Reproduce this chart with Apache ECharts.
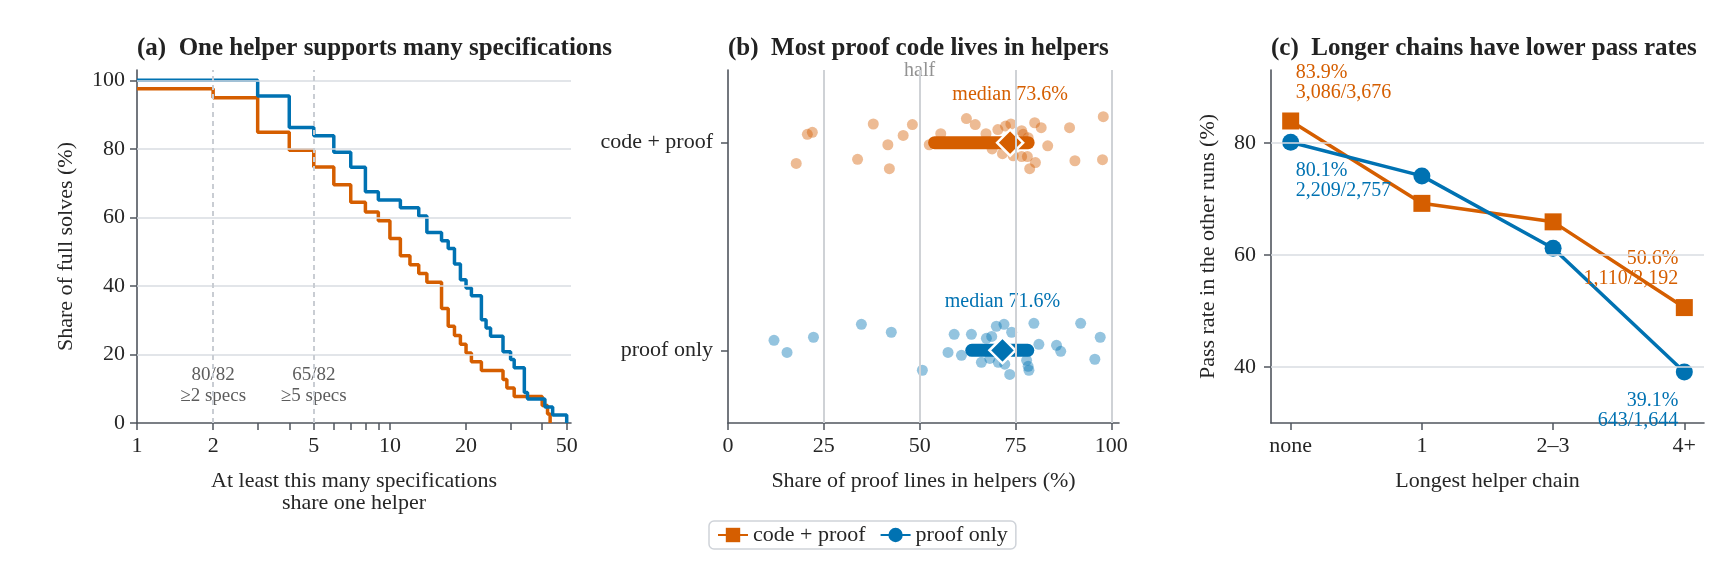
<!DOCTYPE html>
<html>
<head>
<meta charset="utf-8">
<title>Helpers and proofs</title>
<script src="https://cdn.jsdelivr.net/npm/echarts@6.0.0/dist/echarts.min.js"></script>
<style>
  html, body { margin: 0; padding: 0; background: #fff; }
  #chart { width: 1716px; height: 581px; }
</style>
</head>
<body>
<div id="chart"></div>
<script>
// ---- (a) share of full solves vs. number of specs one helper supports
const codeProofStepX = [1, 2, 3, 4, 5, 6, 7, 8, 9, 10, 11, 12, 13, 14, 16, 17, 18, 19, 20, 21, 23, 28, 29, 31, 40, 42, 43];
const codeProofStepY = [97.5, 94.9, 84.8, 79.6, 74.7, 69.5, 64.4, 61.6, 59.0, 53.8, 48.8, 46.2, 43.6, 41.1, 33.4, 28.2, 25.5, 23.0, 20.4, 17.9, 15.3, 12.7, 10.2, 7.7, 5.1, 2.6, 0];
const proofOnlyStepX = [1, 3, 4, 5, 6, 7, 8, 9, 11, 13, 14, 16, 17, 18, 19, 20, 21, 23, 24, 25, 28, 30, 31, 34, 35, 41, 44, 50];
const proofOnlyStepY = [100, 95.4, 86.2, 83.8, 79.0, 74.6, 67.5, 65.1, 62.8, 60.4, 55.6, 53.2, 50.9, 46.4, 41.8, 39.4, 37.1, 30.1, 27.7, 25.3, 20.8, 18.5, 16.1, 8.9, 7.0, 4.7, 2.3, 0];
const refLineX = [2, 5];
const refLineText = ['80/82\n≥2 specs', '65/82\n≥5 specs'];
const refTextY = 10.9;
const specTicks = [1, 2, 3, 4, 5, 6, 7, 8, 9, 10, 20, 30, 40, 50];
const specLabels = [1, 2, 5, 10, 20, 50];
const solveTicks = [0, 20, 40, 60, 80, 100];

// ---- (b) share of proof lines living in helpers (jitter = offset from the row)
const codeProofShare = [17.8, 20.7, 22.0, 33.8, 37.9, 41.7, 42.1, 45.7, 48.1, 52.5, 55.5, 62.2, 64.5, 67.3, 68.9, 70.4, 71.6, 72.4, 73.8, 74.4, 76.6, 77.0, 78.3, 76.6, 78.1, 78.7, 80.0, 80.2, 81.7, 83.4, 89.1, 90.5, 97.7, 97.9];
const codeProofJitter = [-0.10, 0.04, 0.05, -0.08, 0.09, -0.01, -0.125, 0.035, 0.087, -0.01, 0.043, 0.116, 0.087, 0.043, -0.03, 0.063, -0.053, 0.08, 0.09, -0.063, 0.058, 0.04, 0.024, -0.067, -0.067, -0.125, 0.096, -0.096, 0.072, -0.015, 0.072, -0.087, -0.082, 0.125];
const proofOnlyShare = [12.0, 15.4, 22.3, 34.8, 42.6, 50.7, 57.4, 59.0, 60.9, 63.5, 66.1, 67.4, 68.8, 70.0, 72.0, 74.0, 68.3, 70.5, 72.2, 73.5, 77.9, 78.3, 78.5, 79.8, 81.1, 85.7, 86.8, 92.0, 97.1, 95.7];
const proofOnlyJitter = [0.048, -0.01, 0.063, 0.125, 0.087, -0.096, -0.01, 0.077, -0.024, 0.077, -0.058, 0.058, 0.067, 0.116, 0.125, 0.087, -0.039, -0.058, -0.067, -0.116, -0.048, -0.077, -0.096, 0.13, 0.029, 0.024, -0.005, 0.13, 0.063, -0.043];
// index 0 = code + proof, 1 = proof only
const shareMedian = [73.6, 71.6];
const shareQ1 = [53.9, 63.6];
const shareQ3 = [78.3, 78.2];
const shareRow = [1, 0];
const shareTicks = [0, 25, 50, 75, 100];
const shareGrid = [25, 50, 75, 100];
const rowLabels = ['proof only', 'code + proof'];

// ---- (c) pass rate by longest helper chain
const chainCats = ['none', '1', '2–3', '4+'];
const codeProofPass = [83.9, 69.2, 65.9, 50.6];
const proofOnlyPass = [80.1, 74.1, 61.2, 39.1];
const codeProofCounts = ['3,086/3,676', '', '', '1,110/2,192'];
const proofOnlyCounts = ['2,209/2,757', '', '', '643/1,644'];
const passTicks = [40, 60, 80];

const ORANGE = '#D55E00';
const BLUE = '#0072B2';
const AXIS = '#50555e';
const GRID = '#d8dce2';
const TEXT = '#262626';
const FONT = "'Liberation Serif', 'Times New Roman', serif";

const log = (v) => Math.log10(v);

const chart = echarts.init(document.getElementById('chart'));

function axisLine() {
    return { show: true, onZero: false, lineStyle: { color: AXIS, width: 1.6 } };
}
function axisTick(values) {
    return { show: true, length: 7, customValues: values, lineStyle: { color: AXIS, width: 1.5 } };
}
function axisLabel(values, formatter, margin) {
    return {
        customValues: values, formatter, margin,
        fontFamily: FONT, fontSize: 22, color: TEXT
    };
}
const nameStyle = { fontFamily: FONT, fontSize: 22, color: TEXT, lineHeight: 22 };

function gridLines(xi, key, values, style) {
    return {
        type: 'line', xAxisIndex: xi, yAxisIndex: xi, data: [], silent: true, z: 1,
        markLine: {
            silent: true, symbol: ['none', 'none'], label: { show: false }, animation: false,
            lineStyle: style,
            data: values.map((v) => ({ [key]: v }))
        }
    };
}

function stepSeries(name, xs, ys, color) {
    return {
        name, type: 'line', xAxisIndex: 0, yAxisIndex: 0, step: 'end', showSymbol: false, z: 3,
        lineStyle: { color, width: 3.5 }, itemStyle: { color },
        data: xs.map((x, i) => [log(x), ys[i]])
    };
}

function jitterSeries(name, shares, jitter, row, color) {
    return {
        name, type: 'scatter', xAxisIndex: 1, yAxisIndex: 1, symbolSize: 11, z: 2,
        itemStyle: { color, opacity: 0.42 },
        data: shares.map((s, i) => [s, row + jitter[i]])
    };
}

function iqrSeries(name, g, color) {
    const row = shareRow[g];
    return [
        {
            name, type: 'line', xAxisIndex: 1, yAxisIndex: 1, showSymbol: false, z: 3,
            lineStyle: { color, width: 13, cap: 'round' },
            data: [[shareQ1[g], row], [shareQ3[g], row]]
        },
        {
            name, type: 'scatter', xAxisIndex: 1, yAxisIndex: 1, symbol: 'diamond', symbolSize: 26, z: 4,
            itemStyle: { color, borderColor: '#fff', borderWidth: 2.5, opacity: 1 },
            label: {
                show: true, position: 'top', distance: 24,
                formatter: `median ${shareMedian[g]}%`,
                fontFamily: FONT, fontSize: 20, color
            },
            data: [[shareMedian[g], row]]
        }
    ];
}

function chainSeries(name, values, counts, color, symbol, above) {
    return {
        name, type: 'line', xAxisIndex: 2, yAxisIndex: 2, symbol, symbolSize: 17, z: 3,
        lineStyle: { color, width: 3.5 }, itemStyle: { color },
        data: values.map((v, i) => {
            if (!counts[i]) return [i, v];
            const last = i === values.length - 1;
            return {
                value: [i, v],
                label: {
                    show: true,
                    formatter: `${v.toFixed(1)}%\n${counts[i]}`,
                    position: above ? 'top' : 'bottom', distance: 10,
                    align: last ? 'right' : 'left', offset: [last ? -6 : 5, 0],
                    fontFamily: FONT, fontSize: 20, lineHeight: 20, color
                }
            };
        })
    };
}

const titleStyle = { fontFamily: FONT, fontSize: 25, fontWeight: 'bold', color: '#222' };

const option = {
    animation: false,
    backgroundColor: '#fff',
    title: [
        { text: '(a)  One helper supports many specifications', left: 137, top: 36, padding: 0, textStyle: titleStyle },
        { text: '(b)  Most proof code lives in helpers', left: 728, top: 36, padding: 0, textStyle: titleStyle },
        { text: '(c)  Longer chains have lower pass rates', left: 1271, top: 36, padding: 0, textStyle: titleStyle }
    ],
    legend: {
        left: 709, top: 521,
        data: ['code + proof', 'proof only'],
        itemWidth: 30, itemHeight: 18, itemGap: 14,
        padding: [3, 8],
        borderColor: '#cfd3d9', borderWidth: 1.5, borderRadius: 5,
        backgroundColor: '#fff',
        textStyle: { fontFamily: FONT, fontSize: 22, color: TEXT }
    },
    grid: [
        { left: 137, top: 70, width: 434, height: 353 },
        { left: 728, top: 70, width: 391, height: 353 },
        { left: 1271, top: 70, width: 433, height: 353 }
    ],
    xAxis: [
        {
            type: 'value', gridIndex: 0, min: 0, max: log(52),
            axisLine: axisLine(), axisTick: axisTick(specTicks.map(log)),
            axisLabel: axisLabel(specLabels.map(log), (v) => String(Math.round(Math.pow(10, v))), 12),
            splitLine: { show: false },
            name: 'At least this many specifications\nshare one helper',
            nameLocation: 'middle', nameGap: 47, nameTextStyle: nameStyle
        },
        {
            type: 'value', gridIndex: 1, min: 0, max: 102,
            axisLine: axisLine(), axisTick: axisTick(shareTicks),
            axisLabel: axisLabel(shareTicks, (v) => String(v), 12),
            splitLine: { show: false },
            name: 'Share of proof lines in helpers (%)',
            nameLocation: 'middle', nameGap: 47, nameTextStyle: nameStyle
        },
        {
            type: 'value', gridIndex: 2, min: -0.15, max: 3.15,
            axisLine: axisLine(), axisTick: axisTick([0, 1, 2, 3]),
            axisLabel: axisLabel([0, 1, 2, 3], (v) => chainCats[Math.round(v)], 12),
            splitLine: { show: false },
            name: 'Longest helper chain',
            nameLocation: 'middle', nameGap: 47, nameTextStyle: nameStyle
        }
    ],
    yAxis: [
        {
            type: 'value', gridIndex: 0, min: 0, max: 103,
            axisLine: axisLine(), axisTick: axisTick(solveTicks),
            axisLabel: axisLabel(solveTicks, (v) => String(v), 12),
            splitLine: { show: false },
            name: 'Share of full solves (%)',
            nameLocation: 'middle', nameGap: 60, nameTextStyle: nameStyle
        },
        {
            type: 'value', gridIndex: 1, min: -0.35, max: 1.35,
            axisLine: axisLine(), axisTick: axisTick([0, 1]),
            axisLabel: axisLabel([0, 1], (v) => rowLabels[Math.round(v)], 15),
            splitLine: { show: false }
        },
        {
            type: 'value', gridIndex: 2, min: 30, max: 93,
            axisLine: axisLine(), axisTick: axisTick(passTicks),
            axisLabel: axisLabel(passTicks, (v) => String(v), 15),
            splitLine: { show: false },
            name: 'Pass rate in the other runs (%)',
            nameLocation: 'middle', nameGap: 52, nameTextStyle: nameStyle
        }
    ],
    series: [
        // reference lines
        gridLines(0, 'yAxis', solveTicks.filter((v) => v > 0), { color: GRID, width: 1.5, type: 'solid' }),
        gridLines(0, 'xAxis', refLineX.map(log), { color: '#c9cdd3', width: 2, type: [5, 4] }),
        gridLines(1, 'xAxis', shareGrid, { color: '#cfd2d6', width: 2, type: 'solid' }),
        gridLines(2, 'yAxis', passTicks, { color: GRID, width: 1.5, type: 'solid' }),

        // (a)
        stepSeries('a: code + proof', codeProofStepX, codeProofStepY, ORANGE),
        stepSeries('a: proof only', proofOnlyStepX, proofOnlyStepY, BLUE),
        {
            type: 'scatter', xAxisIndex: 0, yAxisIndex: 0, symbolSize: 1, silent: true, z: 2,
            itemStyle: { color: 'rgba(0,0,0,0)' },
            label: { show: true, position: 'inside', fontFamily: FONT, fontSize: 19, lineHeight: 21.5, color: '#333', textBorderWidth: 0 },
            data: refLineX.map((x, i) => ({ value: [log(x), refTextY], label: { formatter: refLineText[i] } }))
        },

        // (b)
        jitterSeries('b: code + proof', codeProofShare, codeProofJitter, shareRow[0], ORANGE),
        jitterSeries('b: proof only', proofOnlyShare, proofOnlyJitter, shareRow[1], BLUE),
        ...iqrSeries('b: code + proof', 0, ORANGE),
        ...iqrSeries('b: proof only', 1, BLUE),
        {
            type: 'scatter', xAxisIndex: 1, yAxisIndex: 1, symbolSize: 1, silent: true, z: 2,
            itemStyle: { color: 'rgba(0,0,0,0)' },
            label: { show: true, position: 'inside', formatter: 'half', fontFamily: FONT, fontSize: 20, color: '#777', textBorderWidth: 0 },
            data: [[50, 1.345]]
        },

        // (c)
        chainSeries('code + proof', codeProofPass, codeProofCounts, ORANGE, 'rect', true),
        chainSeries('proof only', proofOnlyPass, proofOnlyCounts, BLUE, 'circle', false)
    ]
};

chart.setOption(option);
window.addEventListener('resize', () => chart.resize());
</script>
</body>
</html>
